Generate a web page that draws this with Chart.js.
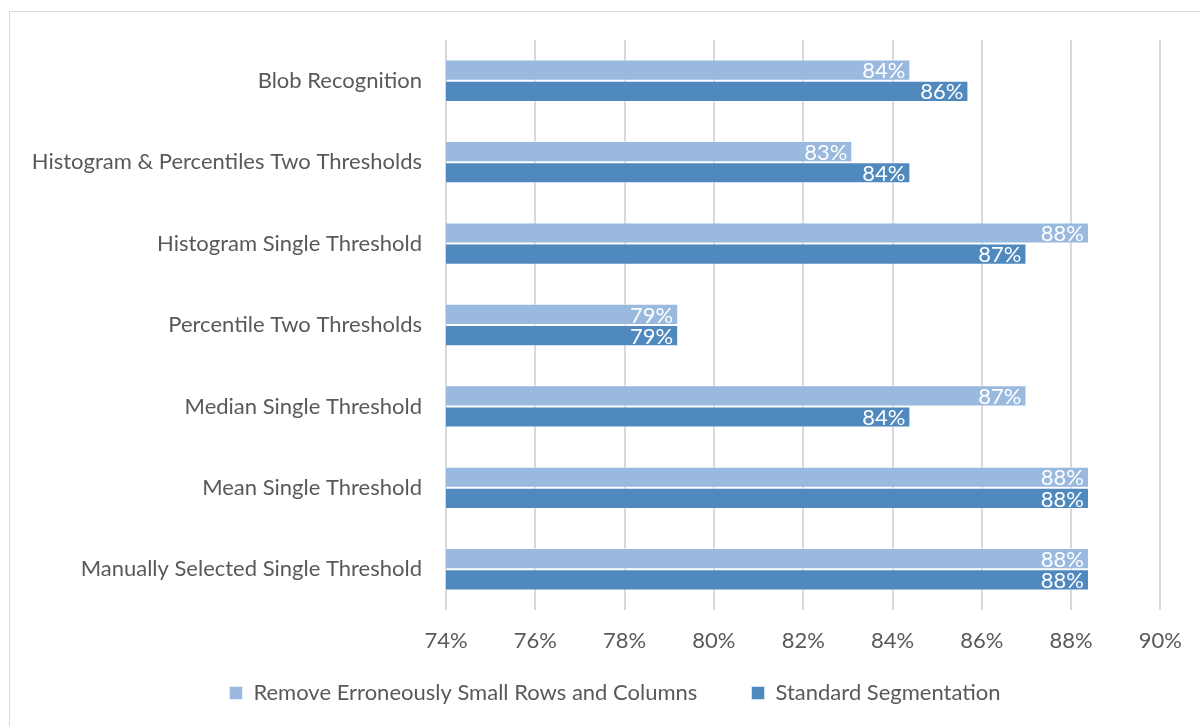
<!DOCTYPE html>
<html>
<head>
<meta charset="utf-8">
<script src="https://cdn.jsdelivr.net/npm/chart.js@4.4.1/dist/chart.umd.min.js"></script>
<style>
  html, body { margin: 0; padding: 0; background: #fff; }
  #wrap { width: 1200px; height: 726px; position: relative; }
</style>
</head>
<body>
<div id="wrap"><canvas id="grafico" width="1200" height="726"></canvas></div>
<script>
// categorias (de cima para baixo)
const categorias = [
  "Blob Recognition",
  "Histogram & Percentiles Two Thresholds",
  "Histogram Single Threshold",
  "Percentile Two Thresholds",
  "Median Single Threshold",
  "Mean Single Threshold",
  "Manually Selected Single Threshold"
];
const removeSmall = [84.4, 83.1, 88.4, 79.2, 87.0, 88.4, 88.4];
const standardSeg = [85.7, 84.4, 87.0, 79.2, 84.4, 88.4, 88.4];
const xMin = 74, xMax = 90, xStep = 2;

Chart.defaults.font.family = "Lato, 'Open Sans', sans-serif";
Chart.defaults.color = "#595959";

// moldura cinza em volta do gráfico
const moldura = {
  id: "moldura",
  beforeDraw(chart) {
    const ctx = chart.ctx;
    ctx.save();
    ctx.strokeStyle = "#d9d9d9";
    ctx.lineWidth = 1;
    ctx.strokeRect(9.5, 11.5, 1400, 900);
    ctx.restore();
  }
};

// rótulos de valor dentro da ponta das barras
const rotulos = {
  id: "rotulos",
  afterDatasetsDraw(chart) {
    const ctx = chart.ctx;
    ctx.save();
    ctx.font = "22px Lato, 'Open Sans', sans-serif";
    ctx.fillStyle = "#ffffff";
    ctx.textAlign = "right";
    ctx.textBaseline = "middle";
    chart.data.datasets.forEach((ds, i) => {
      chart.getDatasetMeta(i).data.forEach((bar, j) => {
        ctx.fillText(Math.round(ds.data[j]) + "%", bar.x - 5, bar.y + 1);
      });
    });
    ctx.restore();
  }
};

new Chart(document.getElementById("grafico"), {
  type: "bar",
  data: {
    labels: categorias,
    datasets: [
      {
        label: "Remove Erroneously Small Rows and Columns",
        data: removeSmall,
        backgroundColor: "#99b9df",
        borderColor: "rgba(255,255,255,0.5)",
        borderWidth: 1,
        categoryPercentage: 0.52,
        barPercentage: 1
      },
      {
        label: "Standard Segmentation",
        data: standardSeg,
        backgroundColor: "#4f89bd",
        borderColor: "rgba(255,255,255,0.5)",
        borderWidth: 1,
        categoryPercentage: 0.52,
        barPercentage: 1
      }
    ]
  },
  options: {
    indexAxis: "y",
    responsive: false,
    animation: false,
    layout: { padding: { top: 40, right: 0, bottom: 12, left: 30 } },
    plugins: {
      tooltip: { enabled: false },
      legend: {
        position: "bottom",
        labels: {
          boxWidth: 13,
          boxHeight: 13,
          padding: 26,
          font: { size: 22 },
          color: "#595959",
          // espaço extra entre os dois itens da legenda
          generateLabels(chart) {
            const itens = Chart.defaults.plugins.legend.labels.generateLabels(chart);
            itens[0].text += "\u00a0\u00a0\u00a0\u00a0\u00a0";
            return itens;
          }
        }
      }
    },
    scales: {
      x: {
        min: xMin,
        max: xMax,
        afterFit(scale) { scale.height = 46; },
        ticks: { stepSize: xStep, padding: 18, font: { size: 22 }, callback: v => v + "%" },
        grid: { color: "#d9d9d9", lineWidth: 2, drawTicks: false },
        border: { display: false }
      },
      y: {
        afterFit(scale) { scale.width = 416; },
        ticks: { padding: 24, font: { size: 22 } },
        grid: { display: false, drawTicks: false },
        border: { display: false }
      },
      // eixo vazio à direita, só para reservar a margem
      y2: {
        type: "category",
        position: "right",
        afterFit(scale) { scale.width = 37; },
        ticks: { display: false },
        grid: { display: false, drawTicks: false },
        border: { display: false }
      }
    }
  },
  plugins: [moldura, rotulos]
});
</script>
</body>
</html>
